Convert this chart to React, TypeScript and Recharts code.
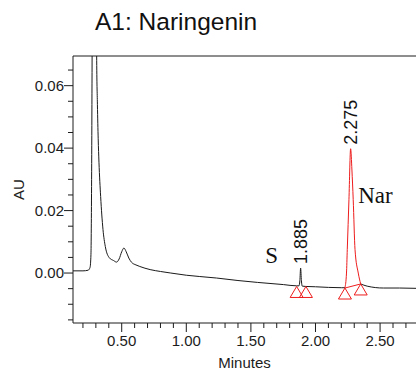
import { ComposedChart, Line, Scatter, XAxis, YAxis, ReferenceLine } from 'recharts';

// ── chromatogram trace (minutes / AU) ─────────────────────────────
const TIMES = [
  0.123, 0.2, 0.24, 0.255, 0.262, 0.267, 0.272, 0.28, 0.29, 0.3,
  0.306, 0.312, 0.318, 0.324, 0.337, 0.355, 0.373, 0.404, 0.437, 0.46,
  0.48, 0.5, 0.517, 0.535, 0.555, 0.577, 0.61, 0.64, 0.72, 0.8,
  0.88, 1.0, 1.1, 1.235, 1.4, 1.55, 1.752, 1.854, 1.872, 1.879,
  1.885, 1.891, 1.898, 1.926, 2.0, 2.1, 2.2, 2.228, 2.24, 2.246,
  2.259, 2.272, 2.282, 2.292, 2.306, 2.331, 2.35, 2.4, 2.525, 2.65,
  2.778,
];
const AU = [
  0.0007, 0.0007, 0.0009, 0.0018, 0.006, 0.03, 0.08, 0.14, 0.16, 0.12,
  0.07, 0.054, 0.043, 0.0355, 0.0245, 0.014, 0.0085, 0.0049, 0.004, 0.0035,
  0.0045, 0.0068, 0.008, 0.0068, 0.0048, 0.0034, 0.0026, 0.0021, 0.0011, 0.0005,
  0.0, -0.0007, -0.0011, -0.0016, -0.0024, -0.003, -0.0037, -0.0041, -0.0041, -0.0025,
  0.0016, -0.0025, -0.0042, -0.0043, -0.0044, -0.0046, -0.0047, -0.0047, 0.0, 0.0075,
  0.0235, 0.0398, 0.033, 0.0235, 0.0075, 0.0, -0.0035, -0.0042, -0.0048, -0.0048,
  -0.0049,
];

// integrated Naringenin peak (drawn red) and its start/end marks
const NAR_START = 2.228;
const NAR_END = 2.35;
const NAR_MARK_T = [2.228, 2.35];
const NAR_MARK_V = [-0.0048, -0.0035];
const S_MARK_T = [1.854, 1.926];
const S_MARK_V = [-0.0043, -0.0043];

// peak apex labels
const PEAK_T = [1.885, 2.272];
const PEAK_V = [0.0016, 0.0398];
const PEAK_RT = ['1.885', '2.275'];
const PEAK_NAME = ['S', 'Nar'];

const X_TICKS = [
  0.2, 0.3, 0.4, 0.5, 0.6, 0.7, 0.8, 0.9, 1.0, 1.1, 1.2, 1.3, 1.4,
  1.5, 1.6, 1.7, 1.8, 1.9, 2.0, 2.1, 2.2, 2.3, 2.4, 2.5, 2.6, 2.7,
];
const Y_TICKS = [
  -0.015, -0.01, -0.005, 0, 0.005, 0.01, 0.015, 0.02, 0.025, 0.03,
  0.035, 0.04, 0.045, 0.05, 0.055, 0.06, 0.065,
];

const X_DOMAIN = [0.123, 2.778];
const Y_DOMAIN = [-0.016, 0.0695];

const rows = TIMES.map((t, i) => {
  const m = NAR_MARK_T.indexOf(t);
  const inNar = t >= NAR_START && t <= NAR_END;
  const insideNar = t > NAR_START && t < NAR_END;
  return {
    t,
    au: insideNar ? null : AU[i],
    nar: inNar ? AU[i] : null,
    drop: m >= 0 ? NAR_MARK_V[m] : null,
  };
});

const marks = [
  ...S_MARK_T.map((t, i) => ({ t, v: S_MARK_V[i] })),
  ...NAR_MARK_T.map((t, i) => ({ t, v: NAR_MARK_V[i] })),
];

const peaks = PEAK_T.map((t, i) => ({ t, v: PEAK_V[i], rt: PEAK_RT[i], name: PEAK_NAME[i] }));

const SANS = '"Liberation Sans", Arial, sans-serif';
const SERIF = '"Liberation Serif", "Times New Roman", serif';
const INK = '#1c1c1c';
const RED = '#ee1c1c';

const near = (a: number, b: number) => Math.abs(a - b) < 1e-6;

function XTick({ x, y, payload }: any) {
  const major = near(payload.value * 2, Math.round(payload.value * 2));
  return (
    <g>
      <line x1={x} x2={x} y1={y} y2={y + (major ? 9 : 5)} stroke={INK} />
      {major && (
        <text x={x} y={y + 23} textAnchor="middle" fontSize={15} fontFamily={SANS} fill={INK}>
          {payload.value.toFixed(2)}
        </text>
      )}
    </g>
  );
}

function YTick({ x, y, payload }: any) {
  const major = near(payload.value * 50, Math.round(payload.value * 50));
  return (
    <g>
      <line x1={x - (major ? 9 : 5)} x2={x} y1={y} y2={y} stroke={INK} />
      {major && (
        <text x={x - 9} y={y} dy="0.35em" textAnchor="end" fontSize={15} fontFamily={SANS} fill={INK}>
          {Math.abs(payload.value).toFixed(2)}
        </text>
      )}
    </g>
  );
}

// open red triangle hanging below the peak start / end point
function Triangle({ cx, cy }: any) {
  return (
    <polygon
      points={`${cx},${cy} ${cx - 6.5},${cy + 11} ${cx + 6.5},${cy + 11}`}
      fill="none"
      stroke={RED}
      strokeWidth={1}
    />
  );
}

function PeakLabel({ cx, cy, payload }: any) {
  const top = cy - 4;
  const isS = payload.name === 'S';
  return (
    <g>
      <text
        x={cx}
        y={top}
        dy="0.36em"
        transform={`rotate(-90 ${cx} ${top})`}
        textAnchor="start"
        fontSize={18}
        fontFamily={SANS}
        fill="#111"
      >
        {payload.rt}
      </text>
      <text
        x={isS ? cx - 29 : cx + 7.5}
        y={isS ? cy - 5 : cy + 54}
        textAnchor={isS ? 'middle' : 'start'}
        fontSize={23}
        fontFamily={SERIF}
        fill="#111"
      >
        {payload.name}
      </text>
    </g>
  );
}

export default function App() {
  return (
    <div style={{ position: 'absolute', left: 0, top: 0, width: 416, height: 377, overflow: 'hidden', background: '#fff' }}>
      <div
        style={{
          position: 'absolute',
          left: 95,
          top: 10,
          fontFamily: SANS,
          fontSize: 24.5,
          lineHeight: '24px',
          color: '#111',
          whiteSpace: 'nowrap',
        }}
      >
        A1: Naringenin
      </div>
      <ComposedChart width={416} height={377} data={rows} margin={{ top: 56, right: 0, bottom: 0, left: 0 }}>
        <XAxis
          dataKey="t"
          type="number"
          domain={X_DOMAIN}
          allowDataOverflow
          ticks={X_TICKS}
          interval={0}
          height={54}
          tickSize={0}
          tickMargin={0}
          tick={XTick}
          tickLine={false}
          axisLine={{ stroke: INK }}
          label={({ viewBox }: any) => (
            <text
              x={viewBox.x + viewBox.width / 2}
              y={viewBox.y + 45}
              textAnchor="middle"
              fontSize={15}
              fontFamily={SANS}
              fill={INK}
            >
              Minutes
            </text>
          )}
        />
        <YAxis
          type="number"
          domain={Y_DOMAIN}
          allowDataOverflow
          ticks={Y_TICKS}
          interval={0}
          width={73}
          tickSize={0}
          tickMargin={0}
          tick={YTick}
          tickLine={false}
          axisLine={{ stroke: INK }}
          label={({ viewBox }: any) => {
            const cy = viewBox.y + viewBox.height / 2;
            return (
              <text
                x={19}
                y={cy}
                dy="0.35em"
                transform={`rotate(-90 19 ${cy})`}
                textAnchor="middle"
                fontSize={15}
                fontFamily={SANS}
                fill={INK}
              >
                AU
              </text>
            );
          }}
        />
        <ReferenceLine y={Y_DOMAIN[1]} stroke={INK} />

        <Line type="monotone" dataKey="au" stroke="#1a1a1a" strokeWidth={1} dot={false} isAnimationActive={false} />
        <Line type="monotone" dataKey="nar" stroke={RED} strokeWidth={1} dot={false} isAnimationActive={false} />
        <Line type="linear" dataKey="drop" stroke={RED} strokeWidth={1} dot={false} connectNulls isAnimationActive={false} />

        <Scatter data={marks} dataKey="v" shape={Triangle} isAnimationActive={false} />
        <Scatter data={peaks} dataKey="v" shape={PeakLabel} isAnimationActive={false} />
      </ComposedChart>
    </div>
  );
}
